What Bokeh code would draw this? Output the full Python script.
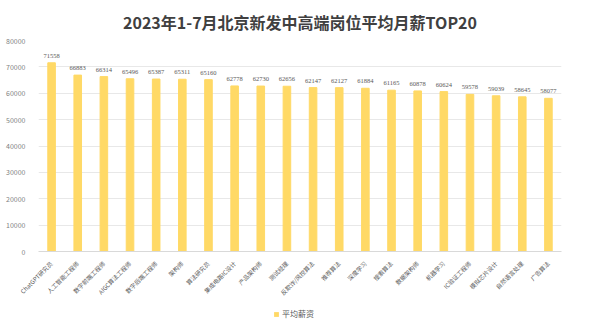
from bokeh.plotting import figure
from bokeh.layouts import column
from bokeh.models import ColumnDataSource, LabelSet, Legend, LegendItem, FixedTicker, NumeralTickFormatter, Range1d
from bokeh.embed import file_html
from bokeh.resources import INLINE
import math

jobs = ["ChatGPT研究员", "人工智能工程师", "数字前端工程师", "AIGC算法工程师", "数字后端工程师",
        "架构师", "算法研究员", "集成电路IC设计", "产品架构师", "测试经理",
        "反欺诈/风控算法", "推荐算法", "深度学习", "搜索算法", "数据架构师",
        "机器学习", "IC验证工程师", "模拟芯片设计", "自然语言处理", "广告算法"]
salary = [71558, 66883, 66314, 65496, 65387, 65311, 65160, 62778, 62730, 62656,
          62147, 62127, 61884, 61165, 60878, 60624, 59578, 59039, 58645, 58077]
y_ticks = [0, 10000, 20000, 30000, 40000, 50000, 60000, 70000, 80000]
series_name = "平均薪资"

FONT = "Noto Sans CJK SC"
BAR = "#FFD966"
src = ColumnDataSource(dict(job=jobs, salary=salary, lab=[str(v) for v in salary]))

p = figure(x_range=jobs, width=598, height=303, output_backend="svg", toolbar_location=None,
           title="2023年1-7月北京新发中高端岗位平均月薪TOP20",
           min_border_left=38, min_border_right=37, min_border_top=0, min_border_bottom=43)
p.y_range = Range1d(0, 80000)
r = p.vbar(x="job", top="salary", width=0.29, color=BAR, source=src)

labels = LabelSet(x="job", y="salary", text="lab", source=src, text_align="center",
                  text_baseline="bottom", y_offset=5, text_font_size="6.5px",
                  text_color="#595959", text_font=FONT)
p.add_layout(labels)

p.title.align = "center"
p.title.text_font = FONT
p.title.text_font_size = "16px"
p.title.text_font_style = "bold"
p.title.text_color = "#404040"
p.title.offset = 0
p.title.standoff = 14

p.yaxis.ticker = FixedTicker(ticks=y_ticks)
p.yaxis.formatter = NumeralTickFormatter(format="0")
p.yaxis.axis_line_color = None
p.yaxis.major_tick_line_color = None
p.yaxis.minor_tick_line_color = None
p.yaxis.major_label_text_font_size = "7px"
p.yaxis.major_label_text_color = "#7f7f7f"
p.yaxis.major_label_text_font = FONT
p.yaxis.major_label_standoff = 7

p.xaxis.axis_line_color = "#d9d9d9"
p.xaxis.major_tick_line_color = None
p.xaxis.major_label_orientation = math.pi / 4
p.xaxis.major_label_text_font_size = "6px"
p.xaxis.major_label_text_color = "#595959"
p.xaxis.major_label_text_font = FONT

p.xgrid.grid_line_color = None
p.ygrid.grid_line_color = "#e8e8e8"
p.outline_line_color = None
p.x_range.range_padding = 0

# legend strip
p2 = figure(width=598, height=18, output_backend="svg", toolbar_location=None,
            x_range=Range1d(0, 1), y_range=Range1d(0, 1),
            min_border_left=0, min_border_right=0, min_border_top=0, min_border_bottom=0)
p2.axis.visible = False
p2.grid.grid_line_color = None
p2.outline_line_color = None
r2 = p2.vbar(x=[0.5], top=[0], bottom=[0], width=0.01, fill_color=BAR, line_color=None)
legend = Legend(items=[LegendItem(label=series_name, renderers=[r2])], location=(235, 2),
                orientation="horizontal", label_text_font_size="8px", label_text_color="#595959",
                label_text_font=FONT, glyph_width=6, glyph_height=6, border_line_color=None,
                background_fill_alpha=0, padding=0, margin=0, label_standoff=3,
                label_height=10, label_width=10)
p2.add_layout(legend, "center")

layout = column(p, p2, spacing=0)
open("out.html", "w").write(file_html(layout, INLINE))
